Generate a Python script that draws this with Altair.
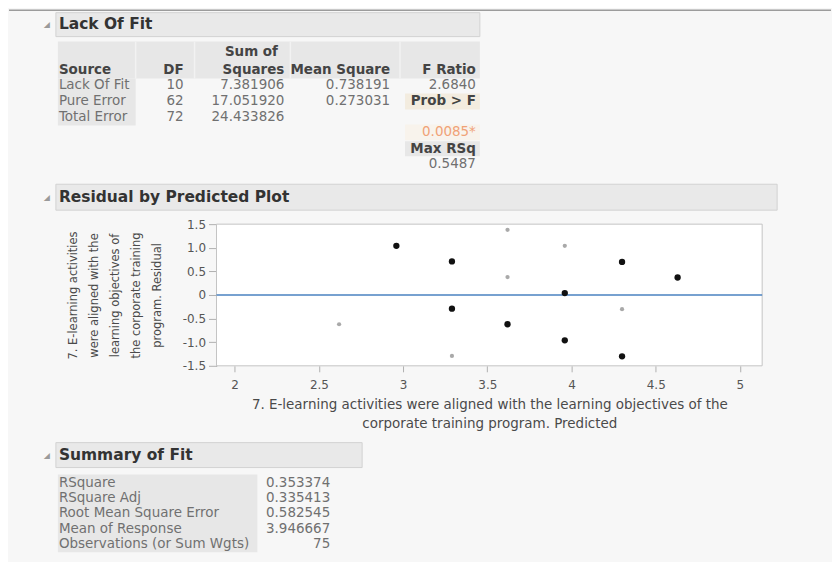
import altair as alt
import pandas as pd

# ---------------- data ----------------
lof_source = ["Lack Of Fit", "Pure Error", "Total Error"]
lof_df = ["10", "62", "72"]
lof_ss = ["7.381906", "17.051920", "24.433826"]
lof_ms = ["0.738191", "0.273031", ""]
lof_f_ratio = "2.6840"
lof_prob_f = "0.0085*"
lof_max_rsq = "0.5487"

fit_labels = ["RSquare", "RSquare Adj", "Root Mean Square Error",
              "Mean of Response", "Observations (or Sum Wgts)"]
fit_values = ["0.353374", "0.335413", "0.582545", "3.946667", "75"]

predicted = [2.62, 2.96, 3.29, 3.29, 3.29, 3.62, 3.62, 3.62,
             3.96, 3.96, 3.96, 4.30, 4.30, 4.30, 4.63]
residual = [-0.62, 1.04, 0.71, -0.29, -1.29, 1.38, 0.38, -0.62,
            1.04, 0.04, -0.96, 0.70, -0.30, -1.30, 0.37]
overlap = [False, True, True, True, False, False, False, True,
           False, True, True, True, False, True, True]

x_ticks = [2, 2.5, 3, 3.5, 4, 4.5, 5]
y_ticks = [-1.5, -1.0, -0.5, 0, 0.5, 1.0, 1.5]
x_domain = [1.892, 5.132]
y_domain = [-1.5, 1.5]

x_title = ["7.  E-learning activities were aligned with the learning objectives of the",
           "corporate training program. Predicted"]
y_title = ["7. E-learning activities", "were aligned with the",
           "learning objectives of", "the corporate training", "program. Residual"]

# ---------------- layout ----------------
W, H, M = 824, 554, 8
FONT = "DejaVu Sans"
BODY = 13.5
HEAD = 15.5
GRAYTXT = "#707070"
DARK = "#333333"
HDR = "#444444"

LX = alt.X("x:Q", scale=alt.Scale(domain=[M, W + M], nice=False, zero=False), axis=None)
LX2 = alt.X2("x2:Q")
LY = alt.Y("y:Q", scale=alt.Scale(domain=[M, H + M], nice=False, zero=False, reverse=True), axis=None)
LY2 = alt.Y2("y2:Q")

rects = [
    # section header bars
    dict(x=55, x2=480, y=12, y2=36, fill="#e9e9e9", stroke="#d2d2d2"),
    dict(x=55, x2=778, y=184, y2=210, fill="#e9e9e9", stroke="#d2d2d2"),
    dict(x=55, x2=362, y=443, y2=468, fill="#e9e9e9", stroke="#d2d2d2"),
    # lack of fit table backgrounds
    dict(x=57, x2=480, y=41, y2=78, fill="#e7e7e7", stroke="transparent"),
    dict(x=57, x2=135, y=78, y2=125, fill="#e7e7e7", stroke="transparent"),
    dict(x=405, x2=480, y=93, y2=109, fill="#f3ecdf", stroke="transparent"),
    dict(x=405, x2=480, y=124, y2=140, fill="#f8f3ec", stroke="transparent"),
    dict(x=405, x2=480, y=141, y2=156, fill="#e7e7e7", stroke="transparent"),
    # summary of fit label column
    dict(x=57, x2=257, y=475, y2=553, fill="#e7e7e7", stroke="transparent"),
]
rect_df = pd.DataFrame(rects)

rules = [
    dict(x=M, x2=W + M, y=9.5, y2=9.5, color="#9c9c9c"),
    dict(x=135, x2=135, y=41, y2=78, color="#f2f2f2"),
    dict(x=194, x2=194, y=41, y2=78, color="#f2f2f2"),
    dict(x=290, x2=290, y=41, y2=78, color="#f2f2f2"),
    dict(x=400, x2=400, y=41, y2=78, color="#f2f2f2"),
]
rule_df = pd.DataFrame(rules)

texts = []


def add(text, x, y, align="left", bold=False, size=BODY, color=GRAYTXT):
    texts.append(dict(text=text, x=x, y=y, align=align, bold=bold, size=size, color=color))


# section titles and disclosure icons
for title, yy in [("Lack Of Fit", 23), ("Residual by Predicted Plot", 197), ("Summary of Fit", 455)]:
    add(title, 58, yy, bold=True, size=HEAD, color=DARK)
    add("\u25e2", 46, yy + 1, align="center", size=8, color="#9a9a9a")

# lack of fit table
col_right = dict(df=183, ss=284, ms=390, f=476)
row_y = [85, 101, 117]
add("Sum of", 251, 51, align="center", bold=True, color=HDR)
add("Source", 58, 69, bold=True, color=HDR)
add("DF", col_right["df"], 69, align="right", bold=True, color=HDR)
add("Squares", col_right["ss"], 69, align="right", bold=True, color=HDR)
add("Mean Square", col_right["ms"], 69, align="right", bold=True, color=HDR)
add("F Ratio", col_right["f"], 69, align="right", bold=True, color=HDR)
for i in range(3):
    add(lof_source[i], 58, row_y[i])
    add(lof_df[i], col_right["df"], row_y[i], align="right")
    add(lof_ss[i], col_right["ss"], row_y[i], align="right")
    if lof_ms[i]:
        add(lof_ms[i], col_right["ms"], row_y[i], align="right")
add(lof_f_ratio, col_right["f"], 85, align="right")
add("Prob > F", col_right["f"], 101, align="right", bold=True, color=HDR)
add(lof_prob_f, col_right["f"], 132, align="right", color="#f0a277")
add("Max RSq", col_right["f"], 148.5, align="right", bold=True, color=HDR)
add(lof_max_rsq, col_right["f"], 164, align="right")

# summary of fit table
for i, (lab, val) in enumerate(zip(fit_labels, fit_values)):
    yy = 483 + i * 15.5
    add(lab, 58, yy)
    add(val, 330, yy, align="right")

text_df = pd.DataFrame(texts)

layers = []
layers.append(
    alt.Chart(rect_df).mark_rect(strokeWidth=1).encode(
        x=LX, x2=LX2, y=LY, y2=LY2,
        fill=alt.Fill("fill:N", scale=None),
        stroke=alt.Stroke("stroke:N", scale=None),
    )
)
layers.append(
    alt.Chart(rule_df).mark_rule(strokeWidth=1.5).encode(
        x=LX, x2=LX2, y=LY, y2=LY2, color=alt.Color("color:N", scale=None)
    )
)

# residual plot
RX = alt.Scale(domain=x_domain, range=[208, 755], nice=False, zero=False)
RY = alt.Scale(domain=y_domain, range=[358, 216], nice=False, zero=False)

frame_df = pd.DataFrame({"x": [x_domain[0]], "x2": [x_domain[1]],
                         "y": [y_domain[0]], "y2": [y_domain[1]]})
layers.append(
    alt.Chart(frame_df).mark_rect(fill="white", stroke="#c4c4c4", strokeWidth=1).encode(
        x=alt.X("x:Q", scale=RX, axis=None), x2="x2:Q",
        y=alt.Y("y:Q", scale=RY, axis=None), y2="y2:Q",
    )
)
zero_df = pd.DataFrame({"x": [x_domain[0]], "x2": [x_domain[1]], "y": [0.0]})
layers.append(
    alt.Chart(zero_df).mark_rule(color="#4a82c0", strokeWidth=1.5).encode(
        x=alt.X("x:Q", scale=RX, axis=None), x2="x2:Q",
        y=alt.Y("y:Q", scale=RY, axis=None),
    )
)

pts = pd.DataFrame({"pred": predicted, "res": residual, "ov": overlap})
pts["col"] = ["#111111" if o else "#a9a9a9" for o in overlap]
pts["sz"] = [40 if o else 18 for o in overlap]

layers.append(
    alt.Chart(pts).mark_circle(opacity=1).encode(
        x=alt.X("pred:Q", scale=RX, axis=alt.Axis(
            orient="bottom", offset=358 - H, values=x_ticks, format=".1~f",
            domain=False, grid=False, tickSize=6, tickColor="#b0b0b0",
            labelFont=FONT, labelFontSize=12, labelColor="#555555", labelPadding=8,
            title=x_title, titleFont=FONT, titleFontSize=13.5, titleFontWeight="normal",
            titleColor="#4a4a4a", titleLineHeight=19, titlePadding=7,
        )),
        y=alt.Y("res:Q", scale=RY, axis=alt.Axis(
            orient="left", offset=-208, values=y_ticks,
            labelExpr="datum.value == 0 ? '0' : replace(format(datum.value, '.1f'), '\u2212', '-')",
            domain=True, domainColor="#8a8a8a", grid=False, tickSize=8, tickColor="#b0b0b0",
            labelFont=FONT, labelFontSize=12, labelColor="#555555", labelPadding=3,
            title=y_title, titleFont=FONT, titleFontSize=11.5, titleFontWeight="normal",
            titleColor="#4a4a4a", titleLineHeight=21, titlePadding=20,
        )),
        color=alt.Color("col:N", scale=None),
        size=alt.Size("sz:Q", scale=None),
    )
)

for (align, bold), sub in text_df.groupby(["align", "bold"]):
    layers.append(
        alt.Chart(sub.reset_index(drop=True)).mark_text(
            align=align, baseline="middle", font=FONT,
            fontWeight="bold" if bold else "normal",
        ).encode(
            x=LX, y=LY, text="text:N",
            size=alt.Size("size:Q", scale=None),
            color=alt.Color("color:N", scale=None),
        )
    )

chart = alt.layer(*layers).resolve_scale(x="independent", y="independent").properties(
    width=W, height=H, padding=0, background="#f7f7f7"
).configure_view(stroke=None)

chart.save("out.html", embed_options={"renderer": "svg", "actions": False})
